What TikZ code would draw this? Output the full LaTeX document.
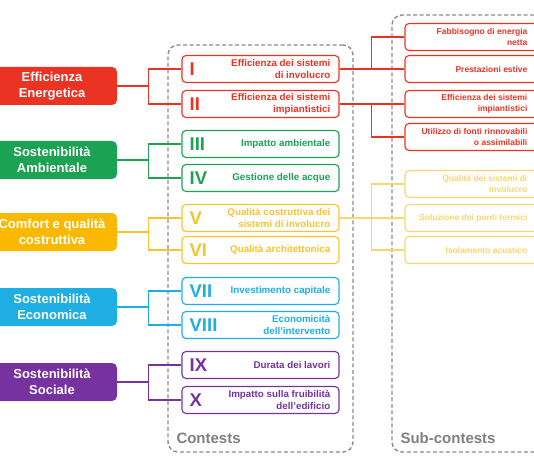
\documentclass[tikz,border=0pt]{standalone}
\usepackage{fontspec}
\setmainfont{Liberation Sans}
\usepackage{tikz}
\usetikzlibrary{calc}
\usetikzlibrary{positioning}
\usepackage{xcolor}
\definecolor{pillarred}{RGB}{235,51,36}
\definecolor{pillargreen}{RGB}{27,163,83}
\definecolor{pillaryellow}{RGB}{250,185,0}
\definecolor{contestyellow}{RGB}{246,196,46}
\definecolor{paleyellow}{RGB}{246,214,110}
\definecolor{pillarblue}{RGB}{31,174,227}
\definecolor{pillarpurple}{RGB}{118,51,160}
\definecolor{framegray}{RGB}{140,140,140}
\definecolor{titlegray}{RGB}{128,128,128}
\newcommand{\widthpillar}{130pt}
\newcommand{\widthcontest}{157pt}
\newcommand{\widthsub}{150pt}
\newcommand{\heightrow}{27pt}
\newcommand{\gapbranch}{33pt}
\tikzset{
    pillar/.style={rounded corners=5pt, minimum width=\widthpillar, minimum height=38pt, text=white, align=center, font=\bfseries\fontsize{13}{15.5}\selectfont},
    contest/.style={draw=#1, line width=1.1pt, rounded corners=4pt, fill=white, minimum width=\widthcontest, minimum height=\heightrow},
    numeral/.style={anchor=west, inner sep=0pt, font=\bfseries\fontsize{18.5}{18.5}\selectfont},
    desc/.style={anchor=east, inner sep=0pt, align=right, font=\bfseries\fontsize{9.8}{11.5}\selectfont},
    subbox/.style={draw=#1, line width=1.1pt, rounded corners=4pt, fill=white, minimum width=\widthsub, minimum height=\heightrow},
    subtext/.style={anchor=east, inner sep=0pt, align=right, font=\bfseries\fontsize{8.5}{11}\selectfont},
    branch/.style={line width=1.1pt},
    dashframe/.style={draw=framegray, dash pattern=on 4pt off 2.5pt, line width=1.4pt, rounded corners=10pt},
    frametitle/.style={anchor=base west, inner sep=0pt, text=titlegray, font=\bfseries\fontsize{15}{15}\selectfont},
}
\begin{document}
\begin{tikzpicture}[x=1pt, y=-1pt]
    \useasboundingbox[fill=white] (0,0) rectangle (534,462);

    \node[dashframe, minimum width=185pt, minimum height=407pt] (contests) at (260.5,248.5) {};
    \node[dashframe, minimum width=178pt, minimum height=437pt] (subcontests) at (481,233.5) {};
    \node[frametitle] (contests-title) at ([xshift=9pt, yshift=9pt]contests.south west) {Contests};
    \node[frametitle] (subcontests-title) at ([xshift=9pt, yshift=9pt]subcontests.south west) {Sub-contests};

    \foreach \i/\ypos/\col/\txt in {
        1/86/pillarred/{Efficienza\\Energetica},
        2/160/pillargreen/{Sostenibilità\\Ambientale},
        3/232/pillaryellow/{Comfort e qualità\\costruttiva},
        4/307/pillarblue/{Sostenibilità\\Economica},
        5/382/pillarpurple/{Sostenibilità\\Sociale}}
        \node[pillar, fill=\col] (p\i) at (52,\ypos) {\txt};

    \foreach \i/\p/\ypos/\col/\num/\txt in {
        1/1/69/pillarred/I/{Efficienza dei sistemi\\di involucro},
        2/1/104/pillarred/II/{Efficienza dei sistemi\\impiantistici},
        3/2/144/pillargreen/III/{Impatto ambientale},
        4/2/178/pillargreen/IV/{Gestione delle acque},
        5/3/218/contestyellow/V/{Qualità costruttiva dei\\sistemi di involucro},
        6/3/250/contestyellow/VI/{Qualità architettonica},
        7/4/291/pillarblue/VII/{Investimento capitale},
        8/4/325/pillarblue/VIII/{Economicità\\dell'intervento},
        9/5/365/pillarpurple/IX/{Durata dei lavori},
        10/5/400/pillarpurple/X/{Impatto sulla fruibilità\\dell'edificio}}
    {
        \node[contest=\col] (c\i) at (260.5,\ypos) {};
        \node[numeral, text=\col] (n\i) at ([xshift=8pt]c\i.west) {\num};
        \node[desc, text=\col] (t\i) at ([xshift=-9pt]c\i.east) {\txt};
        \draw[branch, draw=\col] (p\p.east) -| ([xshift=-\gapbranch]c\i.west) -- (c\i.west);
    }

    \foreach \i/\ypos/\col/\txt in {
        1/37/pillarred/{Fabbisogno di energia\\netta},
        2/69/pillarred/{Prestazioni estive},
        3/104/pillarred/{Efficienza dei sistemi\\impiantistici},
        4/137/pillarred/{Utilizzo di fonti rinnovabili\\o assimilabili},
        5/184/paleyellow/{Qualità dei sistemi di\\involucro},
        6/218/paleyellow/{Soluzione dei ponti termici},
        7/250/paleyellow/{Isolamento acustico}}
    {
        \node[subbox=\col] (s\i) at (480,\ypos) {};
        \node[subtext, text=\col] (st\i) at ([xshift=-28pt]s\i.east) {\txt};
    }

    \draw[branch, draw=pillarred] (c1.east) -| ([xshift=-\gapbranch]s1.west) -- (s1.west);
    \draw[branch, draw=pillarred] (c1.east) -- (s2.west);
    \draw[branch, draw=pillarred] (c2.east) -- (s3.west);
    \draw[branch, draw=pillarred] (c2.east) -| ([xshift=-\gapbranch]s4.west) -- (s4.west);
    \draw[branch, draw=paleyellow] (c5.east) -| ([xshift=-\gapbranch]s5.west) -- (s5.west);
    \draw[branch, draw=paleyellow] (c5.east) -- (s6.west);
    \draw[branch, draw=paleyellow] (c5.east) -| ([xshift=-\gapbranch]s7.west) -- (s7.west);
\end{tikzpicture}
\end{document}
